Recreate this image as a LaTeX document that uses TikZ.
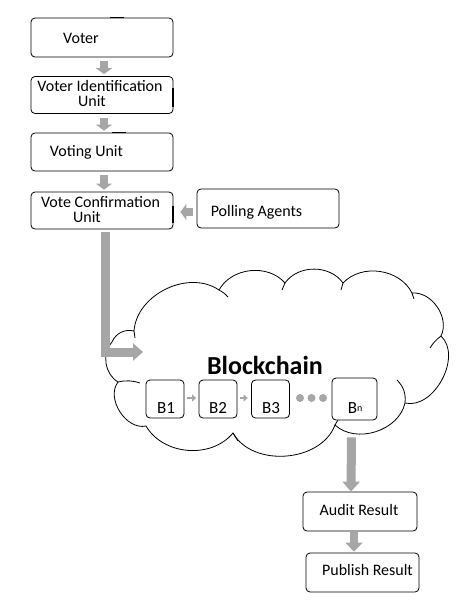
\documentclass[tikz,border=0pt]{standalone}
\usepackage{fontspec}
\setmainfont{Carlito}
\usetikzlibrary{arrows.meta,calc}
\definecolor{arrgray}{RGB}{166,166,166}
\begin{document}
\begin{tikzpicture}[x=1pt,y=-1pt,
  box/.style={draw=black, line width=0.8pt, rounded corners=4pt, inner sep=0pt, fill=white},
  blk/.style={draw=black, line width=0.8pt, rounded corners=4pt, inner sep=0pt, fill=white, minimum width=38pt, minimum height=38pt},
  txt/.style={font=\fontsize{16}{15}\selectfont, inner sep=0pt, align=center},
  garrow/.style={draw=arrgray, line width=8pt, -{Triangle[length=6pt,width=16pt]}},
  bigarrow/.style={draw=arrgray, line width=9pt, -{Triangle[length=10pt,width=17pt]}},
  tinyarrow/.style={draw=arrgray, line width=2.5pt, -{Triangle[length=4pt,width=7pt]}},
  dotnode/.style={circle, fill=arrgray, minimum size=8pt, inner sep=0pt},
  cloudline/.style={draw=black, line width=0.8pt},
  edgemark/.style={draw=black, line width=2pt}
]
\useasboundingbox (0,0) rectangle (462,603);

% boxes
\node[box, minimum width=142pt, minimum height=39pt] (voter) at (102,37.5) {};
\node[box, minimum width=142pt, minimum height=37pt] (viu) at (102,95) {};
\node[box, minimum width=142pt, minimum height=38pt] (vu) at (102,152) {};
\node[box, minimum width=142pt, minimum height=37pt] (vcu) at (102,210.5) {};
\node[box, minimum width=142pt, minimum height=39pt] (pa) at (268,208.5) {};
\node[box, minimum width=114pt, minimum height=39pt] (audit) at (360,511.5) {};
\node[box, minimum width=113pt, minimum height=39pt] (publish) at (362.5,572.5) {};

% thicker bits on some box edges
\draw[edgemark] ($(viu.east)+(0,-7)$) -- ($(viu.east)+(0,12)$);
\draw[edgemark] ($(vcu.east)+(0,-5)$) -- ($(vcu.east)+(0,12)$);
\draw[draw=black, line width=1.4pt] ($(voter.north)+(8,0)$) -- ($(voter.north)+(22,0)$);
\draw[draw=black, line width=1.4pt] ($(vu.north)+(10,0)$) -- ($(vu.north)+(24,0)$);

% texts
\node[txt] (tvoter) at (81,38) {Voter};
\node[txt] (tviu) at (100,93.5) {Voter Identification\\\hspace*{-16pt}Unit};
\node[txt] (tvu) at (86.5,152) {Voting Unit};
\node[txt] (tvcu) at (100.5,210) {Vote Confirmation\\\hspace*{-27pt}Unit};
\node[txt] (tpa) at (256.5,212) {Polling Agents};
\node[txt] (taudit) at (359,510) {Audit Result};
\node[txt] (tpublish) at (367.5,570) {Publish Result};

% cloud
\draw[cloudline] (118,382) to[bend left=50] (112,342) to[bend left=40] (134,331)
  to[bend left=60] (219,290) to[bend left=55] (285,283) to[bend left=55] (343,283)
  to[bend left=55] (412,293) to[bend left=60] (441,336) to[bend left=75] (405,403)
  to[bend left=60] (335,425) to[bend left=65] (233,433) to[bend left=55] (146,426)
  to[bend left=70] (118,382) -- cycle;
% small inner hooks of the cloud
\draw[cloudline] (118,382) to[bend left=15] (140,383);
\draw[cloudline] (134,331) -- (135,338);
\draw[cloudline] (219,290) to[bend left=10] (228,297);
\draw[cloudline] (285,283) -- (282,290);
\draw[cloudline] (343,283) -- (341,290);
\draw[cloudline] (412,293) -- (414,299);
\draw[cloudline] (441,336) to[bend right=10] (430,348);
\draw[cloudline] (405,403) to[bend right=25] (397,380);
\draw[cloudline] (335,425) -- (339,418);
\draw[cloudline] (233,433) -- (238,441);

\node[inner sep=0pt, font=\fontsize{26}{28}\selectfont\bfseries] (bc) at (265,365) {Blockchain};

% blocks
\node[blk] (b1) at (165,399) {};
\node[blk] (b2) at (218,399) {};
\node[blk] (b3) at (270.5,399) {};
\node[blk, minimum width=45pt, minimum height=42pt] (bn) at (354.5,399) {};
\node[txt, font=\fontsize{17}{18}\selectfont] (tb1) at (166,408) {B1};
\node[txt, font=\fontsize{17}{18}\selectfont] (tb2) at (218,408) {B2};
\node[txt, font=\fontsize{17}{18}\selectfont] (tb3) at (271,408) {B3};
\node[txt, font=\fontsize{17}{18}\selectfont] (tbn) at (355,408) {B{\raisebox{2pt}{\fontsize{10}{10}\selectfont n}}};

\draw[tinyarrow] ($(b1.east)+(3,-1)$) -- ($(b2.west)+(-2.5,-1)$);
\draw[tinyarrow] ($(b2.east)+(3,-1)$) -- ($(b3.west)+(-3.5,-1)$);
\node[dotnode] (d1) at (300,398) {};
\node[dotnode] (d2) at (311.5,398) {};
\node[dotnode] (d3) at (323,398) {};

% arrows
\draw[garrow] ($(voter.south)+(2,4)$) -- ($(viu.north)+(2,-2)$);
\draw[garrow] ($(viu.south)+(2,4)$) -- ($(vu.north)+(2,-2)$);
\draw[garrow] ($(vu.south)+(2,4)$) -- ($(vcu.north)+(2,-2)$);
\draw[garrow] ($(pa.west)+(-4,3.5)$) -- ($(vcu.east)+(7,1.5)$);
\coordinate (blkin) at (143,352);
\draw[bigarrow] ($(vcu.south)+(3,3)$) |- (blkin);
\draw[bigarrow] ($(bn.south)+(-3,17)$) -- ($(audit.north)+(-9,0)$);
\draw[garrow, -{Triangle[length=9pt,width=17pt]}] ($(audit.south)+(-6,0)$) -- ($(publish.north)+(-8.5,-1)$);
\end{tikzpicture}
\end{document}
